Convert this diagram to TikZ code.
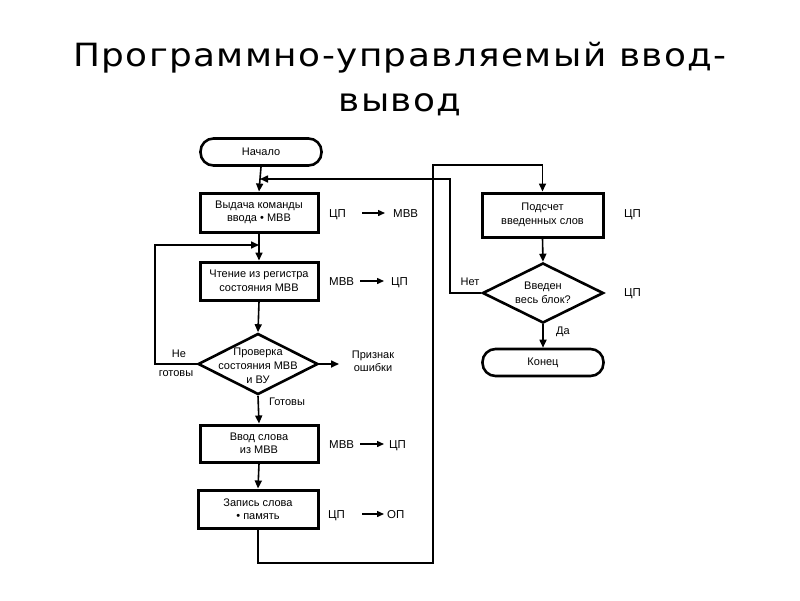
\documentclass[tikz,border=0pt]{standalone}
\usepackage{fontspec}
\setmainfont{Liberation Sans}
\newfontfamily\titlefont[FakeStretch=1.12,LetterSpace=4.5]{DejaVu Sans}
\usetikzlibrary{arrows.meta,shapes.geometric}
\begin{document}
\begin{tikzpicture}[x=1pt,y=-1pt,
  every node/.style={font=\fontsize{11}{13.5}\selectfont, align=center, inner sep=0pt},
  box/.style={draw, line width=3pt, rectangle, minimum width=#1, minimum height=38pt},
  term/.style={draw, line width=2.6pt, rectangle, rounded corners=13pt, minimum width=121pt, minimum height=27pt},
  dia/.style={draw, line width=2.6pt, diamond, minimum width=120pt, minimum height=61pt},
  flow/.style={line width=1.6pt},
  arr/.style={flow, -{Triangle[length=8pt,width=7pt]}},
  tr/.style={line width=1.4pt, -{Triangle[length=7pt,width=6pt]}},
  lbl/.style={font=\fontsize{11}{13}\selectfont},
  ann/.style={font=\fontsize{11.5}{13}\selectfont, anchor=base west}
]
\useasboundingbox (0,0) rectangle (800,600);
% title
\node[font=\titlefont\fontsize{32}{45}\selectfont, align=center] (title) at (400,79) {Программно-управляемый ввод-\\вывод};

% left column
\node[term] (start) at (261,152) {Начало};
\node[box=118pt, minimum height=39pt] (b1) at (259,212.5) {Выдача команды\\ввода • МВВ};
\node[box=118pt] (b2) at (259,281) {Чтение из регистра\\состояния МВВ};
\node[dia] (d1) at (258,364) {};
\node[font=\fontsize{11}{14}\selectfont] (d1t) at (258,366) {Проверка\\состояния МВВ\\и ВУ};
\node[box=118pt, minimum height=37pt] (b3) at (259,443.5) {Ввод слова\\из МВВ};
\node[box=120pt] (b4) at (258,509) {Запись слова\\• память};

% right column
\node[box=121pt, minimum height=44pt] (b5) at (542.5,215) {Подсчет\\введенных слов};
\node[dia, minimum width=121pt, minimum height=60pt] (d2) at (543,293) {};
\node (d2t) at (543,293) {Введен\\весь блок?};
\node[term] (end) at (543,362.5) {Конец};

% coordinates
\coordinate (fbin) at (260,179);
\coordinate (fbc1) at (450,293);
\coordinate (fbc2) at (450,179);
\coordinate (lpin) at (259,245);
\coordinate (lpc1) at (155,364);
\coordinate (lpc2) at (155,245);
\coordinate (err) at (339,364);
\coordinate (bc1) at (258,563);
\coordinate (bc2) at (433,563);
\coordinate (bc3) at (433,165);
\coordinate (bc4) at (542.5,165);

% connectors
\draw[arr] (start.south) -- (b1.north);
\draw[arr] (b1.south) -- (b2.north);
\draw[arr] (b2.south) -- (d1.north);
\draw[arr] (d1.south) -- (b3.north);
\draw[arr] (b3.south) -- (b4.north);
\draw[arr] (d1.east) -- (err);
\draw[arr] (d1.west) -- (lpc1) -- (lpc2) -- (lpin);
\draw[flow] (b4.south) -- (bc1) -- (bc2) -- (bc3) -- (bc4);
\draw[arr] (bc4) -- (b5.north);
\draw[arr] (b5.south) -- (d2.north);
\draw[arr] (d2.south) -- (end.north);
\draw[arr] (d2.west) -- (fbc1) -- (fbc2) -- (fbin);

% labels on flow
\node[lbl] (ne) at (179,354) {Не};
\node[lbl] (gotovy1) at (176,374) {готовы};
\node[lbl] (gotovy2) at (287,402) {Готовы};
\node[lbl] (priz) at (373,361) {Признак\\ошибки};
\node[lbl] (net) at (470,282) {Нет};
\node[lbl] (da) at (563,332) {Да};

% transfer annotations
\node[ann] (a1l) at (329,217) {ЦП};
\node[ann] (a1r) at (393,217) {МВВ};
\draw[tr] (362,213) -- (385,213);
\node[ann] (a2l) at (329,285) {МВВ};
\node[ann] (a2r) at (391,285) {ЦП};
\draw[tr] (360,281) -- (384,281);
\node[ann] (a3l) at (329,448) {МВВ};
\node[ann] (a3r) at (389,448) {ЦП};
\draw[tr] (360,444) -- (384,444);
\node[ann] (a4l) at (328,518) {ЦП};
\node[ann] (a4r) at (387,518) {ОП};
\draw[tr] (362,514) -- (384,514);
\node[ann] (a5) at (624,217) {ЦП};
\node[ann] (a6) at (624,296) {ЦП};
\end{tikzpicture}
\end{document}
